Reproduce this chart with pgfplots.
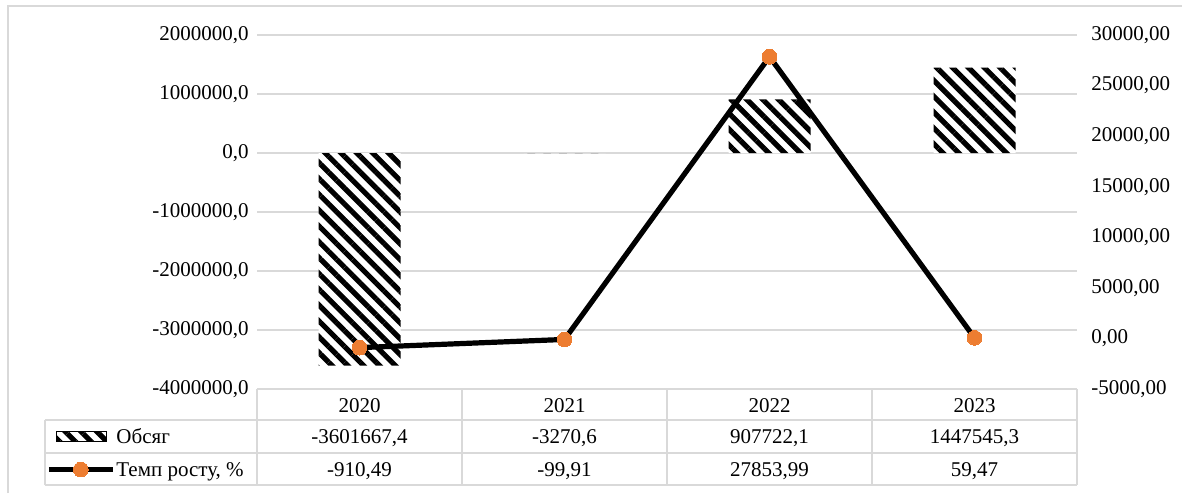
\documentclass[border=0pt]{standalone}
\usepackage{fontspec}
\setmainfont{Liberation Serif}
\usepackage{pgfplots}
\pgfplotsset{compat=1.18}
\usetikzlibrary{patterns.meta}

\definecolor{gridgray}{RGB}{217,217,217}
\definecolor{xlorange}{RGB}{237,125,49}
\tikzset{xlstripes/.style={pattern={Lines[angle=-45,distance=5.6pt,line width=2.6pt]}}}
\pgfplotsset{
  markline legend/.style={legend image code/.code={\draw[mark repeat=2, mark phase=2, ##1]
    plot coordinates {(0pt,0pt) (16pt,0pt) (32pt,0pt)};}},
  stripe legend/.style={legend image code/.code={
    \fill[white] (4pt,-2.5pt) rectangle (29pt,2.5pt);
    \fill[xlstripes] (4pt,-2.5pt) rectangle (29pt,2.5pt);}},
}

\begin{document}
\fontsize{10.5}{12.6}\selectfont%
\begin{tikzpicture}
\path[use as bounding box] (0,0) rectangle (591pt,246.5pt);
% chart frame
\draw[gridgray, line width=0.75pt] (4pt,0) -- (4pt,243.5pt) -- (591pt,243.5pt);

% data table grid
\begin{scope}[gridgray, line width=1pt]
  \draw (128.5pt,52pt) -- (538.5pt,52pt);
  \draw (22.5pt,36.5pt) -- (538.5pt,36.5pt);
  \draw (22.5pt,20pt) -- (538.5pt,20pt);
  \draw (22.5pt,4pt) -- (538.5pt,4pt);
  \draw (22.5pt,4pt) -- (22.5pt,36.5pt);
  \foreach \x in {128.5,231,333.5,436,538.5}
    \draw (\x pt,4pt) -- (\x pt,52pt);
\end{scope}
\begin{scope}[every node/.style={anchor=base, inner sep=0pt}]
  \node at (179.75pt,40.4pt) {2020};
  \node at (282.25pt,40.4pt) {2021};
  \node at (384.75pt,40.4pt) {2022};
  \node at (487.25pt,40.4pt) {2023};
  \node at (179.75pt,24.65pt) {-3601667,4};
  \node at (282.25pt,24.65pt) {-3270,6};
  \node at (384.75pt,24.65pt) {907722,1};
  \node at (487.25pt,24.65pt) {1447545,3};
  \node at (179.75pt,8.4pt) {-910,49};
  \node at (282.25pt,8.4pt) {-99,91};
  \node at (384.75pt,8.4pt) {27853,99};
  \node at (487.25pt,8.4pt) {59,47};
\end{scope}

% bars, left axis
\begin{axis}[
  at={(128.5pt,52pt)}, anchor=south west,
  width=410pt, height=177pt, scale only axis,
  xmin=-0.5, xmax=3.5,
  ymin=-4000000, ymax=2000000,
  ytick={-4000000,-3000000,...,2000000},
  xtick=\empty,
  axis y line*=left, axis x line=none,
  axis line style={draw=none},
  major tick length=0pt,
  ymajorgrids, grid style={gridgray, line width=1pt},
  scaled y ticks=false,
  yticklabel style={inner sep=0pt, xshift=-4pt,
    /pgf/number format/fixed, /pgf/number format/fixed zerofill,
    /pgf/number format/precision=1, /pgf/number format/use comma,
    /pgf/number format/1000 sep={}, /pgf/number format/assume math mode=true},
  ybar, bar width=0.4,
]
\addplot[draw=none, fill=white, postaction={xlstripes}] coordinates {
  (0,-3601667.4) (1,-3270.6) (2,907722.1) (3,1447545.3)};
\end{axis}

% line, right axis
\begin{axis}[
  at={(128.5pt,52pt)}, anchor=south west,
  width=410pt, height=177pt, scale only axis,
  xmin=-0.5, xmax=3.5,
  ymin=-5000, ymax=30000,
  ytick={-5000,0,...,30000},
  xtick=\empty,
  axis y line*=right, axis x line=none,
  axis line style={draw=none},
  major tick length=0pt,
  clip=false,
  scaled y ticks=false,
  yticklabel style={inner sep=0pt, xshift=7pt, anchor=west,
    /pgf/number format/fixed, /pgf/number format/fixed zerofill,
    /pgf/number format/precision=2, /pgf/number format/use comma,
    /pgf/number format/1000 sep={}, /pgf/number format/assume math mode=true},
  legend cell align=left,
  legend style={at={(-0.257,-0.0876)}, anchor=north west, draw=none, fill=none,
    inner sep=0pt, outer sep=0pt, row sep=0pt, column sep=0pt,
    nodes={inner xsep=0.5pt, inner ysep=0pt, text height=11.75pt, text depth=4.75pt}},
]
\addlegendimage{stripe legend}
\addplot[black, line width=2.6pt, line join=round, mark=*, mark size=3.7pt,
  mark options={draw=xlorange, fill=xlorange, line width=0pt}, markline legend]
  coordinates {(0,-910.49) (1,-99.91) (2,27853.99) (3,59.47)};
\legend{Обсяг,{Темп росту, \%}}
\end{axis}
\end{tikzpicture}
\end{document}
